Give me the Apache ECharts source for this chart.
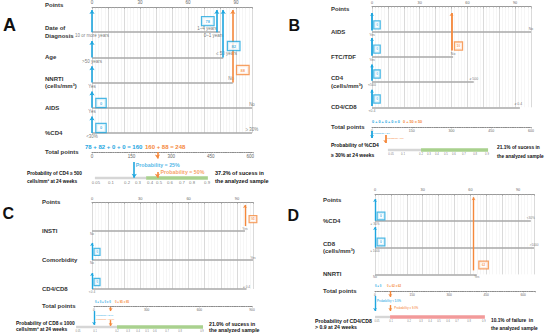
<!DOCTYPE html>
<html><head><meta charset="utf-8">
<script src="https://cdn.jsdelivr.net/npm/echarts@6/dist/echarts.min.js"></script>
<style>html,body{margin:0;padding:0;background:#fff}#c{width:550px;height:335px}</style>
</head><body><div id="c"></div>
<script>
// ================= DATA =================
// ---- Panel A ----
const A_rows = ['Date of\nDiagnosis', 'Age', 'NNRTI\n(cells/mm³)', 'AIDS', '%CD4'];
const A_lineEnd = [80, 82, 88, 100, 100];
const A_levelText = ['10 or more years', '1–4 years', '0–1 years', '>50 years', '≤ 50 years', 'Yes', 'No', 'Yes', 'No', '<30%', '≥ 30%'];
const A_levelRow = [1, 1, 1, 2, 2, 3, 3, 4, 4, 5, 5];
const A_levelPts = [0, 72, 76, 0, 84, 0, 87, 0, 100, 0, 100];
const A_levelSide = ['b', 't', 'b', 'b', 't', 'b', 't', 'b', 't', 'b', 't'];
const A_blueArrowPts = [0, 0, 0, 0, 0, 78, 82];
const A_orangeArrowPts = [88];
const A_boxText = ['78', '82', '88', '0', '0'];
const A_boxPts = [78, 82, 88, 0, 0];
const A_boxCase = ['blue', 'blue', 'orange', 'blue', 'blue'];
const A_ptsTicks = [0, 30, 60, 90];
const A_totalMax = 610, A_totalStep = 150;
const A_blueTerms = [78, 82, 0, 0], A_blueTotal = 160;
const A_orangeTerms = [160, 88], A_orangeTotal = 248;
const A_totArrowAt = [160, 248, 248];
const A_totArrowCase = ['blue', 'orange', 'orange'];
const A_probTicks = ['0.05', '0.1', '0.2', '0.3', '0.4', '0.5', '0.6', '0.7', '0.8', '0.9'];
const A_probTickAt = [15, 72, 133, 174, 220, 254, 295, 341, 379, 436];
const A_probStart = 11, A_bandStart = 205, A_bandEnd = 439;
const A_probText = ['Probability = 25%', 'Probability = 50%'];
const A_probTextAt = [160, 248];
const A_outcome = 'Probability of CD4 ≥ 500\ncells/mm³ at 24 weeks';
const A_sample = '37.2% of sucess in\nthe analyzed sample';

// ---- Panel B ----
const B_rows = ['AIDS', 'FTC/TDF', 'CD4\n(cells/mm³)', 'CD4/CD8'];
const B_lineEnd = [100, 51, 64, 93];
const B_levelText = ['Yes', 'No', 'Yes', 'No', '<500', '≥ 500', '<0.4', '≥ 0.4'];
const B_levelRow = [1, 1, 2, 2, 3, 3, 4, 4];
const B_levelPts = [0, 100, 0, 51, 0, 64, 0, 92];
const B_levelSide = ['b', 't', 'b', 't', 'b', 't', 'b', 't'];
const B_blueArrowPts = [0, 0, 0, 0];
const B_orangeArrowPts = [50];
const B_boxText = ['0', '0', '0', '0', '50'];
const B_boxPts = [0, 0, 0, 0, 50];
const B_boxCase = ['blue', 'blue', 'blue', 'blue', 'orange'];
const B_ptsTicks = [0, 30, 60, 90];
const B_totalMax = 600, B_totalStep = 150;
const B_blueTerms = [0, 0, 0, 0], B_blueTotal = 0;
const B_orangeTerms = [0, 50], B_orangeTotal = 50;
const B_totArrowAt = [0, 50];
const B_totArrowCase = ['blue', 'orange'];
const B_probTicks = ['0.05', '0.1', '0.2', '0.3', '0.4', '0.5', '0.6', '0.7', '0.8', '0.9'];
const B_probTickAt = [72, 117, 185, 215, 245, 279, 309, 347, 389, 434];
const B_probStart = 60, B_bandStart = 185, B_bandEnd = 438;
const B_probText = ['Probability < 5%', 'Probability < 5%'];
const B_probTextAt = [0, 50];
const B_outcome = 'Probability of %CD4\n≥ 30% at 24 weeks';
const B_sample = '21.1% of sucess in\nthe analyzed sample';

// ---- Panel C ----
const C_rows = ['INSTI', 'Comorbidity', 'CD4/CD8'];
const C_lineEnd = [95, 100, 96];
const C_levelText = ['No', 'Yes', 'No', 'Yes', '<0.4', '≥ 0.4'];
const C_levelRow = [1, 1, 2, 2, 3, 3];
const C_levelPts = [0, 95, 0, 100, 0, 96];
const C_levelSide = ['b', 't', 'b', 't', 'b', 't'];
const C_blueArrowPts = [0, 0];
const C_orangeArrowPts = [95];
const C_boxText = ['0', '0', '95'];
const C_boxPts = [0, 0, 95];
const C_boxCase = ['blue', 'blue', 'orange'];
const C_ptsTicks = [0, 30, 60, 90];
const C_totalMax = 900, C_totalStep = 300;
const C_blueTerms = [0, 0, 0], C_blueTotal = 0;
const C_orangeTerms = [0, 95], C_orangeTotal = 95;
const C_totArrowAt = [0, 95, 95];
const C_totArrowCase = ['blue', 'orange', 'orange'];
const C_probTicks = ['0.05', '0.1', '0.2', '0.3', '0.4', '0.5', '0.6', '0.7', '0.8', '0.9'];
const C_probTickAt = [-91, 6, 131, 194, 251, 302, 347, 416, 490, 615];
const C_probStart = -102, C_bandStart = 131, C_bandEnd = 621;
const C_probText = ['Probability < 8.0%', 'Probability = 18.0%'];
const C_probTextAt = [0, 0];
const C_outcome = 'Probability of CD8 ≤ 1000\ncells/mm³ at 24 weeks';
const C_sample = '21.0% of sucess in\nthe analyzed sample';

// ---- Panel D ----
const D_rows = ['%CD4', 'CD8\n(cells/mm³)', 'NNRTI'];
const D_lineEnd = [98, 100, 64];
const D_levelText = ['≥ 30%', '<30%', '≤ 1000', '>1000', 'No', 'Yes'];
const D_levelRow = [1, 1, 2, 2, 3, 3];
const D_levelPts = [0, 98, 0, 100, 0, 64];
const D_levelSide = ['b', 't', 'b', 't', 'b', 'b'];
const D_blueArrowPts = [0, 0];
const D_orangeArrowPts = [62];
const D_boxText = ['0', '0', '62'];
const D_boxPts = [0, 0, 62];
const D_boxCase = ['blue', 'blue', 'orange'];
const D_ptsTicks = [0, 30, 60, 90];
const D_totalMax = 650, D_totalStep = 150;
const D_blueTerms = [0, 0], D_blueTotal = null;
const D_orangeTerms = [0, 62], D_orangeTotal = 62;
const D_totArrowAt = [0, 62, 62];
const D_totArrowCase = ['blue', 'orange', 'orange'];
const D_probTicks = ['0.05', '0.1', '0.2', '0.3', '0.4', '0.5', '0.6', '0.7', '0.8', '0.9'];
const D_probTickAt = [8, 65, 138, 186, 223, 259, 296, 332, 381, 441];
const D_probStart = 0, D_bandStart = 61, D_bandEnd = 445;
const D_probText = ['Probability < 5.0%', 'Probability = 9.0%'];
const D_probTextAt = [0, 62];
const D_outcome = 'Probability of CD4/CD8\n> 0.9 at 24 weeks';
const D_sample = '10.1% of failure  in\nthe analyzed sample';

// ================= LAYOUT / STYLE =================
const BLUE = '#1ea6df', ORANGE = '#f5883b', FONT = 'Liberation Sans';
const LAYOUT = {
  A: { letter: [9, 25, 18], pts: { left: 92, top: 7, width: 160, rowH: 25.2 }, labelMargin: 47, pointsDy: -2,
       blueArrowY: [[1, 0.12], [2, 1.35], [3, 2.35], [4, 3.35], [5, 4.35], [1, 0.12], [2, 0.12]], orangeArrowY: [[3, 0.12]],
       arrowW: 1.6, arrowHead: 4, boxRow: [0.56, 1.55, 2.5, 3.81, 4.8], boxShift: [-9, 10.5, 10, 9, 9], boxFont: 4, boxPad: [2, 3.5],
       tot: { left: 92, top: 152, width: 161, height: 26 }, totLabelMargin: 47,
       totArrowY: [[0.38, 0.99], [0, 0.25], [0.77, 0.99]], probTextY: [0.5, 0.77], probTextDist: [1.5, 3],
       sumPos: [[85, 147], [145, 147]], sumFont: 6, outcomePos: [27, 177], outcomeFont: 4.8, outcomeLH: 8,
       samplePos: [215, 177], sampleFont: 5.5, sampleLH: 8, band: '#a9d18e',
       f: { row: 6, pts: 4.5, level: 4.5, tot: 4.5, prob: 4.3, probText: 5.3 } },
  B: { letter: [294, 25, 16], pts: { left: 372, top: 6.5, width: 159, rowH: 25.2 }, labelMargin: 41, pointsDy: 2.5,
       blueArrowY: [[0.95, 0.26], [1.95, 1.25], [2.95, 2.3], [3.95, 3.3]], orangeArrowY: [[1.75, 0.26]],
       arrowW: 1.8, arrowHead: 3, boxRow: [0.73, 1.69, 2.68, 3.67, 1.57], boxShift: [5, 5, 5, 5, 7], boxFont: 3, boxPad: [2, 1.8],
       tot: { left: 372, top: 127, width: 159, height: 23 }, totLabelMargin: 41,
       totArrowY: [[0.17, 0.48], [0.35, 0.7]], probTextY: [0.26, 0.48], probTextDist: [1, 1.5],
       sumPos: [[372, 122], [403, 122]], sumFont: 3.8, outcomePos: [331, 150], outcomeFont: 5, outcomeLH: 9.4,
       samplePos: [497, 151.5], sampleFont: 4.8, sampleLH: 9, band: '#a9d18e',
       f: { row: 6, pts: 3.8, level: 3.5, tot: 3.5, prob: 2.8, probText: 2.2 } },
  C: { letter: [8, 213, 16], pts: { left: 92, top: 202, width: 161, rowH: 29 }, labelMargin: 50, pointsDy: 0,
       blueArrowY: [[2, 1.41], [3, 2.45]], orangeArrowY: [[0.83, 0.1]],
       arrowW: 1.4, arrowHead: 3, boxRow: [1.72, 2.76, 0.59], boxShift: [5, 5, 8], boxFont: 3, boxPad: [1.5, 1.6],
       tot: { left: 94, top: 306, width: 158, height: 21 }, totLabelMargin: 52,
       totArrowY: [[0.24, 0.9], [0.05, 0.24], [0.67, 0.95]], probTextY: [0.43, 0.62], probTextDist: [2, 2],
       sumPos: [[95, 302], [115, 302]], sumFont: 2.8, outcomePos: [16, 326.5], outcomeFont: 4.9, outcomeLH: 6.8,
       samplePos: [209, 327], sampleFont: 5.2, sampleLH: 6.8, band: '#a9d18e',
       f: { row: 6, pts: 4, level: 3.2, tot: 3.2, prob: 2.6, probText: 2 } },
  D: { letter: [293, 215, 16], pts: { left: 375, top: 194, width: 159, rowH: 26.8 }, labelMargin: 52, pointsDy: 6,
       blueArrowY: [[1, 0.19], [2, 1.23]], orangeArrowY: [[2.85, 0.12]],
       arrowW: 1.4, arrowHead: 3, boxRow: [0.82, 1.79, 2.65], boxShift: [6, 6, 10], boxFont: 3.2, boxPad: [1.8, 2.4],
       tot: { left: 375, top: 291, width: 160.5, height: 26 }, totLabelMargin: 52,
       totArrowY: [[0.19, 0.77], [0, 0.23], [0.54, 0.77]], probTextY: [0.38, 0.62], probTextDist: [2, 4],
       sumPos: [[375, 286], [387, 286]], sumFont: 2.8, outcomePos: [315, 324], outcomeFont: 5.2, outcomeLH: 6.4,
       samplePos: [491, 324.5], sampleFont: 4.8, sampleLH: 7.3, band: '#f29a9a',
       f: { row: 6, pts: 3.8, level: 3.2, tot: 3.2, prob: 2.6, probText: 2.8 } }
};

const PANELS = {
  A: { rows: A_rows, lineEnd: A_lineEnd, levelText: A_levelText, levelRow: A_levelRow, levelPts: A_levelPts, levelSide: A_levelSide,
       blueArrowPts: A_blueArrowPts, orangeArrowPts: A_orangeArrowPts, boxText: A_boxText, boxPts: A_boxPts, boxCase: A_boxCase,
       ptsTicks: A_ptsTicks, totalMax: A_totalMax, totalStep: A_totalStep, blueTerms: A_blueTerms, blueTotal: A_blueTotal,
       orangeTerms: A_orangeTerms, orangeTotal: A_orangeTotal, totArrowAt: A_totArrowAt, totArrowCase: A_totArrowCase,
       probTicks: A_probTicks, probTickAt: A_probTickAt, probStart: A_probStart, bandStart: A_bandStart, bandEnd: A_bandEnd,
       probText: A_probText, probTextAt: A_probTextAt, outcome: A_outcome, sample: A_sample },
  B: { rows: B_rows, lineEnd: B_lineEnd, levelText: B_levelText, levelRow: B_levelRow, levelPts: B_levelPts, levelSide: B_levelSide,
       blueArrowPts: B_blueArrowPts, orangeArrowPts: B_orangeArrowPts, boxText: B_boxText, boxPts: B_boxPts, boxCase: B_boxCase,
       ptsTicks: B_ptsTicks, totalMax: B_totalMax, totalStep: B_totalStep, blueTerms: B_blueTerms, blueTotal: B_blueTotal,
       orangeTerms: B_orangeTerms, orangeTotal: B_orangeTotal, totArrowAt: B_totArrowAt, totArrowCase: B_totArrowCase,
       probTicks: B_probTicks, probTickAt: B_probTickAt, probStart: B_probStart, bandStart: B_bandStart, bandEnd: B_bandEnd,
       probText: B_probText, probTextAt: B_probTextAt, outcome: B_outcome, sample: B_sample },
  C: { rows: C_rows, lineEnd: C_lineEnd, levelText: C_levelText, levelRow: C_levelRow, levelPts: C_levelPts, levelSide: C_levelSide,
       blueArrowPts: C_blueArrowPts, orangeArrowPts: C_orangeArrowPts, boxText: C_boxText, boxPts: C_boxPts, boxCase: C_boxCase,
       ptsTicks: C_ptsTicks, totalMax: C_totalMax, totalStep: C_totalStep, blueTerms: C_blueTerms, blueTotal: C_blueTotal,
       orangeTerms: C_orangeTerms, orangeTotal: C_orangeTotal, totArrowAt: C_totArrowAt, totArrowCase: C_totArrowCase,
       probTicks: C_probTicks, probTickAt: C_probTickAt, probStart: C_probStart, bandStart: C_bandStart, bandEnd: C_bandEnd,
       probText: C_probText, probTextAt: C_probTextAt, outcome: C_outcome, sample: C_sample },
  D: { rows: D_rows, lineEnd: D_lineEnd, levelText: D_levelText, levelRow: D_levelRow, levelPts: D_levelPts, levelSide: D_levelSide,
       blueArrowPts: D_blueArrowPts, orangeArrowPts: D_orangeArrowPts, boxText: D_boxText, boxPts: D_boxPts, boxCase: D_boxCase,
       ptsTicks: D_ptsTicks, totalMax: D_totalMax, totalStep: D_totalStep, blueTerms: D_blueTerms, blueTotal: D_blueTotal,
       orangeTerms: D_orangeTerms, orangeTotal: D_orangeTotal, totArrowAt: D_totArrowAt, totArrowCase: D_totArrowCase,
       probTicks: D_probTicks, probTickAt: D_probTickAt, probStart: D_probStart, bandStart: D_bandStart, bandEnd: D_bandEnd,
       probText: D_probText, probTextAt: D_probTextAt, outcome: D_outcome, sample: D_sample }
};

// ================= BUILD =================
const option = { animation: false, textStyle: { fontFamily: FONT }, grid: [], xAxis: [], yAxis: [], series: [], graphic: [] };
const col = c => (c === 'blue' ? BLUE : ORANGE);
function sumText(terms, total) { let s = terms.join(' + '); if (total !== null && total !== undefined) s += ' = ' + total; return s; }
function gtext(x, y, text, size, color, weight, lh) {
  option.graphic.push({ type: 'text', x: x, y: y, silent: true,
    style: { text: text, fontSize: size, fontWeight: weight, fontFamily: FONT, fill: color, align: 'left', verticalAlign: 'middle', lineHeight: lh || size * 1.2 } });
}
function hidden() { return { show: false }; }

function addPanel(key) {
  const P = PANELS[key], L = LAYOUT[key];
  const n = P.rows.length;
  const gi = option.grid.length;
  option.grid.push({ left: L.pts.left, top: L.pts.top, width: L.pts.width, height: L.pts.rowH * n, containLabel: false, outerBoundsMode: 'none' });
  option.grid.push({ left: L.tot.left, top: L.tot.top, width: L.tot.width, height: L.tot.height, containLabel: false, outerBoundsMode: 'none' });
  const xp = option.xAxis.length, yp = option.yAxis.length;
  // Points axis (top) with vertical grid lines
  option.xAxis.push({ gridIndex: gi, type: 'value', position: 'top', min: 0, max: 100, interval: 10,
    axisLine: { show: true, onZero: false, lineStyle: { color: '#9a9a9a', width: 1 } },
    axisTick: { show: true, inside: true, length: 2, lineStyle: { color: '#9a9a9a', width: 0.6 } },
    minorTick: { show: true, splitNumber: 5, length: 1.2, lineStyle: { color: '#aaaaaa', width: 0.5 } },
    axisLabel: { show: true, fontSize: L.f.pts, color: '#666', margin: 2, formatter: v => (P.ptsTicks.indexOf(v) >= 0 ? String(v) : '') },
    splitLine: { show: true, lineStyle: { color: '#d0d0d0', width: 0.8 } },
    minorSplitLine: { show: true, lineStyle: { color: '#ededed', width: 0.5 } } });
  // Total points axis
  option.xAxis.push({ gridIndex: gi + 1, type: 'value', position: 'top', min: 0, max: P.totalMax, interval: P.totalStep,
    axisLine: { show: true, onZero: false, lineStyle: { color: '#8c8c8c', width: 1, type: [1.4, 0.9] } },
    axisTick: { show: true, inside: true, length: 1.5, lineStyle: { color: '#8c8c8c', width: 0.5 } },
    minorTick: { show: true, splitNumber: 10, length: 1, lineStyle: { color: '#999', width: 0.4 } },
    axisLabel: { show: true, inside: true, fontSize: L.f.tot, color: '#666', margin: 2,
      formatter: v => (v % P.totalStep === 0 && v <= P.totalMax ? String(v) : '') },
    splitLine: hidden() });
  const rowNames = ['Points'].concat(P.rows);
  const dy = L.pointsDy;
  option.yAxis.push({ gridIndex: gi, type: 'value', min: 0, max: n, interval: 1, inverse: true,
    axisLine: hidden(), axisTick: hidden(), splitLine: hidden(),
    axisLabel: { show: true, align: 'left', margin: L.labelMargin, fontSize: L.f.row, fontWeight: 'bold', color: '#333', lineHeight: L.f.row * 1.25,
      formatter: v => { const i = Math.round(v); return i === 0 ? '{p|Points}' : (rowNames[i] || ''); },
      rich: { p: { fontSize: L.f.row, fontWeight: 'bold', color: '#333', lineHeight: L.f.row * 1.25,
        padding: dy >= 0 ? [2 * dy, 0, 0, 0] : [0, 0, -2 * dy, 0] } } } });
  option.yAxis.push({ gridIndex: gi + 1, type: 'value', min: 0, max: 1, interval: 1, inverse: true,
    axisLine: hidden(), axisTick: hidden(), splitLine: hidden(),
    axisLabel: { show: true, align: 'left', margin: L.totLabelMargin, fontSize: L.f.row, fontWeight: 'bold', color: '#333',
      formatter: v => (Math.round(v) === 0 ? 'Total points' : '') } });

  const base = { silent: true, clip: false };
  // Row lines
  option.series.push(Object.assign({ type: 'lines', coordinateSystem: 'cartesian2d', xAxisIndex: xp, yAxisIndex: yp, z: 3,
    lineStyle: { color: '#a8a8a8', width: 1.5, opacity: 1 },
    data: P.rows.map((r, i) => ({ coords: [[0, i + 1], [P.lineEnd[i], i + 1]] })) }, base));
  // Level labels
  option.series.push(Object.assign({ type: 'scatter', xAxisIndex: xp, yAxisIndex: yp, symbolSize: 0, z: 4,
    itemStyle: { color: 'rgba(0,0,0,0)' },
    label: { show: true, formatter: '{b}', fontSize: L.f.level, color: '#555', distance: 1.2 },
    data: P.levelText.map((t, i) => ({ name: t, value: [P.levelPts[i], P.levelRow[i]], label: { position: P.levelSide[i] === 't' ? 'top' : 'bottom' } })) }, base));
  // Arrows to the Points axis
  [['blue', P.blueArrowPts, L.blueArrowY], ['orange', P.orangeArrowPts, L.orangeArrowY]].forEach(([c, pts, ys]) => {
    option.series.push(Object.assign({ type: 'lines', coordinateSystem: 'cartesian2d', xAxisIndex: xp, yAxisIndex: yp, z: 5,
      symbol: ['none', 'arrow'], symbolSize: L.arrowHead,
      lineStyle: { color: col(c), width: L.arrowW, opacity: 1 },
      data: pts.map((p, i) => ({ coords: [[p, ys[i][0]], [p, ys[i][1]]] })) }, base));
  });
  // Point boxes
  option.series.push(Object.assign({ type: 'scatter', xAxisIndex: xp, yAxisIndex: yp, symbolSize: 0, z: 6,
    itemStyle: { color: 'rgba(0,0,0,0)' },
    label: { show: true, position: 'inside', formatter: '{b}', fontSize: L.boxFont, fontWeight: 'bold', borderWidth: 1.2,
      padding: L.boxPad, backgroundColor: '#fff' },
    data: P.boxText.map((t, i) => ({ name: t, value: [P.boxPts[i], L.boxRow[i]],
      label: { color: col(P.boxCase[i]), borderColor: col(P.boxCase[i]), offset: [L.boxShift[i], 0] } })) }, base));

  const xt = xp + 1, yt = yp + 1;
  // Probability scale: grey part and band
  option.series.push(Object.assign({ type: 'lines', coordinateSystem: 'cartesian2d', xAxisIndex: xt, yAxisIndex: yt, z: 3,
    lineStyle: { color: '#d6d6d6', width: 2.4, opacity: 1 },
    data: [{ coords: [[P.probStart, 1], [P.bandStart, 1]] }] }, base));
  option.series.push(Object.assign({ type: 'lines', coordinateSystem: 'cartesian2d', xAxisIndex: xt, yAxisIndex: yt, z: 3,
    lineStyle: { color: L.band, width: 3.6, opacity: 1 },
    data: [{ coords: [[P.bandStart, 1], [P.bandEnd, 1]] }] }, base));
  // Probability tick labels
  option.series.push(Object.assign({ type: 'scatter', xAxisIndex: xt, yAxisIndex: yt, symbolSize: 0, z: 4,
    itemStyle: { color: 'rgba(0,0,0,0)' },
    label: { show: true, position: 'bottom', distance: 2.5, formatter: '{b}', fontSize: L.f.prob, color: '#555' },
    data: P.probTicks.map((t, i) => ({ name: t, value: [P.probTickAt[i], 1] })) }, base));
  // Arrows from total points to probability
  option.series.push(Object.assign({ type: 'lines', coordinateSystem: 'cartesian2d', xAxisIndex: xt, yAxisIndex: yt, z: 5,
    symbol: ['none', 'arrow'], symbolSize: L.arrowHead,
    data: P.totArrowAt.map((v, i) => ({ coords: [[v, L.totArrowY[i][0]], [v, L.totArrowY[i][1]]],
      lineStyle: { color: col(P.totArrowCase[i]), width: L.arrowW, opacity: 1 } })) }, base));
  // Probability texts
  option.series.push(Object.assign({ type: 'scatter', xAxisIndex: xt, yAxisIndex: yt, symbolSize: 0, z: 6,
    itemStyle: { color: 'rgba(0,0,0,0)' },
    label: { show: true, position: 'right', formatter: '{b}', fontSize: L.f.probText, fontWeight: 'bold' },
    data: P.probText.map((t, i) => ({ name: t, value: [P.probTextAt[i], L.probTextY[i]],
      label: { color: i === 0 ? BLUE : ORANGE, distance: L.probTextDist[i] } })) }, base));

  // Texts
  gtext(L.letter[0] - L.letter[2] * 0.34, L.letter[1], key, L.letter[2], '#111', 'bold');
  gtext(L.sumPos[0][0], L.sumPos[0][1], sumText(P.blueTerms, P.blueTotal), L.sumFont, BLUE, 'bold');
  gtext(L.sumPos[1][0], L.sumPos[1][1], sumText(P.orangeTerms, P.orangeTotal), L.sumFont, ORANGE, 'bold');
  gtext(L.outcomePos[0], L.outcomePos[1], P.outcome, L.outcomeFont, '#111', 'bold', L.outcomeLH);
  gtext(L.samplePos[0], L.samplePos[1], P.sample, L.sampleFont, '#111', 'bold', L.sampleLH);
}
['A', 'B', 'C', 'D'].forEach(addPanel);

const chart = echarts.init(document.getElementById('c'), null, { renderer: 'svg', width: 550, height: 335 });
chart.setOption(option);
</script>
</body></html>
